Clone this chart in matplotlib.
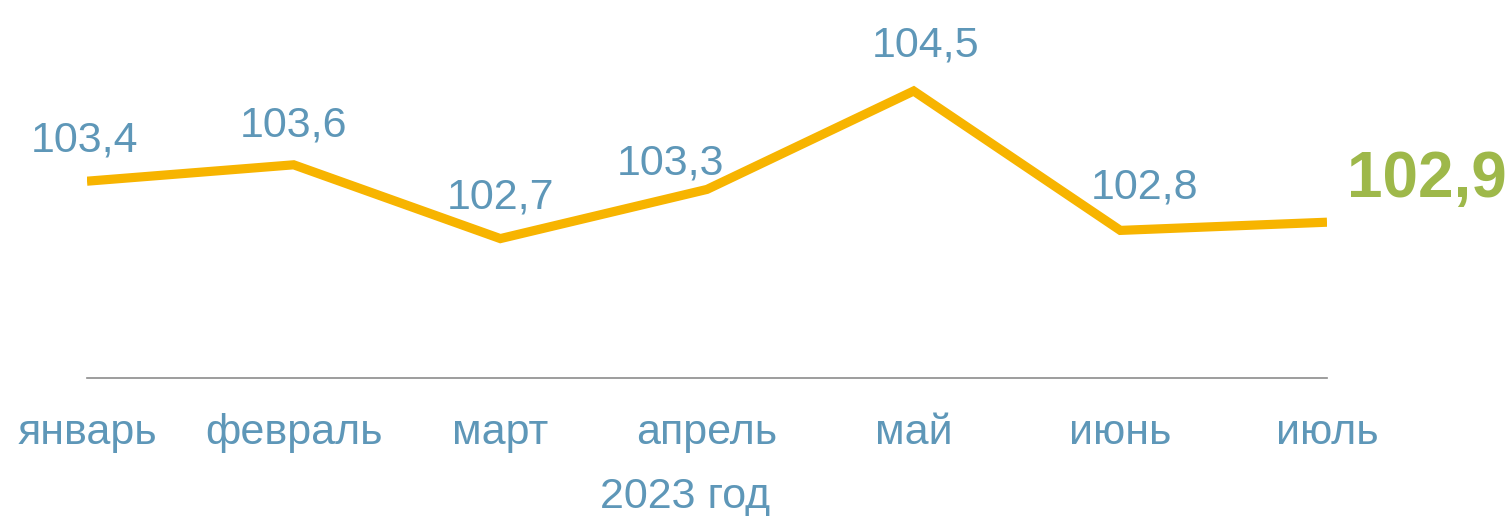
import matplotlib
matplotlib.use("Agg")
import matplotlib.pyplot as plt

months = ["январь", "февраль", "март", "апрель", "май", "июнь", "июль"]
values = [103.4, 103.6, 102.7, 103.3, 104.5, 102.8, 102.9]
value_labels = ["103,4", "103,6", "102,7", "103,3", "104,5", "102,8", "102,9"]
year_label = "2023 год"

blue = "#5E97B8"
green = "#9EB84A"
orange = "#F7B400"

plt.rcParams['font.family'] = ['Liberation Sans', 'DejaVu Sans']

fig = plt.figure(figsize=(15.05, 5.16), dpi=100)
ax = fig.add_axes([87 / 1505, 138 / 516, 1240 / 1505, 328 / 516])

x = list(range(len(months)))
ax.plot(x, values, color=orange, lw=6.6, solid_joinstyle='miter', solid_capstyle='butt')

ax.set_xlim(0, len(months) - 1)
ax.set_ylim(101, 105)

# label offsets in pixels (dx, dy)
offsets = [(-2, 41), (0, 39), (0, 41), (-37, 26), (12, 46), (24, 43)]
for i, (dx, dy) in enumerate(offsets):
    ax.annotate(value_labels[i], (x[i], values[i]), xytext=(dx, dy),
                textcoords='offset pixels', ha='center', va='center',
                fontsize=31, color=blue)
ax.annotate(value_labels[-1], (x[-1], values[-1]), xytext=(20, 42),
            textcoords='offset pixels', ha='left', va='center',
            fontsize=46, fontweight='bold', color=green, annotation_clip=False)

for i, m in enumerate(months):
    ax.annotate(m, (x[i], 101), xytext=(0, -55), textcoords='offset pixels',
                ha='center', va='center', fontsize=31, color=blue,
                annotation_clip=False)

fig.text(685 / 1505, 1 - 497 / 516, year_label, ha='center', va='center',
         fontsize=31, color=blue)

for s in ['top', 'right', 'left']:
    ax.spines[s].set_visible(False)
ax.spines['bottom'].set_color('#8C8C8C')
ax.spines['bottom'].set_linewidth(1.2)
ax.set_xticks([])
ax.set_yticks([])

fig.savefig("out.png", dpi=100)
